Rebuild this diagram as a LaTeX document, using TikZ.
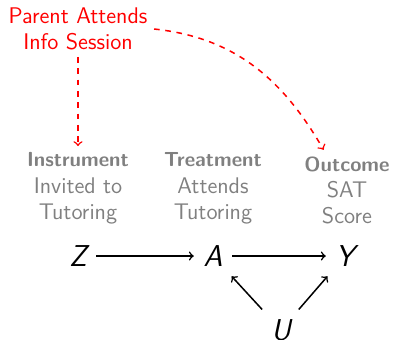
\documentclass[tikz,border=0pt]{standalone}
\usetikzlibrary{positioning}
\renewcommand{\familydefault}{\sfdefault}

\tikzset{
	var/.style={font=\fontsize{16}{19}\selectfont\slshape, inner sep=5pt},
	lab/.style={align=center, text=black!50, anchor=south, font=\large},
	causal/.style={->, thick},
	path/.style={->, thick, red, dashed}
}
\newcommand{\headline}[1]{{\fontsize{10.8}{14}\selectfont\bfseries #1}}

\begin{document}
\begin{tikzpicture}[x=0.53pt, y=-0.53pt]
	\useasboundingbox (0,0) rectangle (393,339);
	
	%Variablen
	\node[var] (Z) at (78,256) {Z};
	\node[var] (A) at (213,256) {A};
	\node[var] (Y) at (345,256) {Y};
	\node[var] (U) at (281,330) {U};
	
	%Beschriftungen
	\node[lab] (zlab) at (78,231) {\headline{Instrument}\\Invited to\\Tutoring};
	\node[lab] (alab) at (213,231) {\headline{Treatment}\\Attends\\Tutoring};
	\node[lab] (ylab) at (347,231) {\headline{Outcome}\\SAT\\Score};
	
	\node[align=center, text=red, font=\large] (parent) at (78,29) {Parent Attends\\Info Session};
	
	%Pfeile
	\draw[causal] (Z) -- (A);
	\draw[causal] (A) -- (Y);
	\draw[causal] (U) -- (A);
	\draw[causal] (U) -- (Y);
	
	\draw[path] (parent) -- (zlab);
	\draw[path] (parent.east) to[out=-6, in=120] (ylab);
\end{tikzpicture}
\end{document}
